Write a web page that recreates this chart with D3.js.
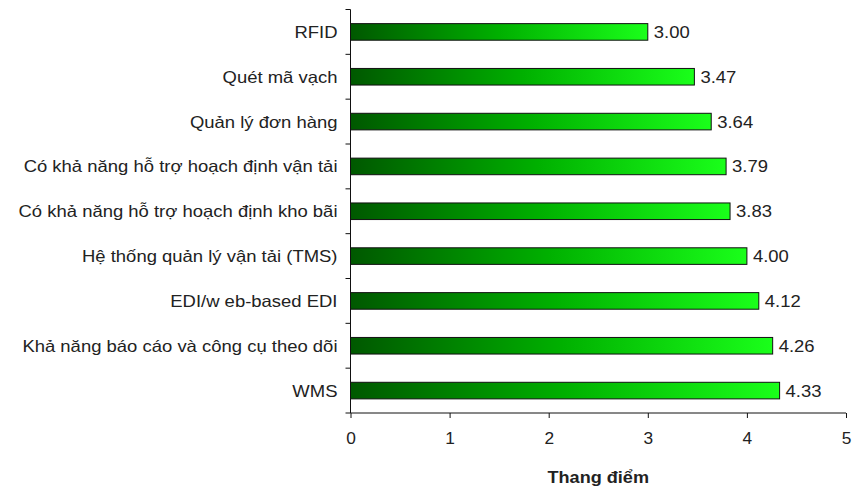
<!DOCTYPE html>
<html>
<head>
<meta charset="utf-8">
<script src="https://cdn.jsdelivr.net/npm/d3@7"></script>
<style>
  html, body { margin: 0; padding: 0; background: #fff; }
  svg { display: block; font-family: "Liberation Sans", Arial, sans-serif; }
</style>
</head>
<body>
<svg id="chart" width="858" height="489"></svg>
<script>
// Feature ratings, top to bottom
const categories = [
  "RFID",
  "Quét mã vạch",
  "Quản lý đơn hàng",
  "Có khả năng hỗ trợ hoạch định vận tải",
  "Có khả năng hỗ trợ hoạch định kho bãi",
  "Hệ thống quản lý vận tải (TMS)",
  "EDI/w eb-based EDI",
  "Khả năng báo cáo và công cụ theo dõi",
  "WMS"
];
const scores = [3.00, 3.47, 3.64, 3.79, 3.83, 4.00, 4.12, 4.26, 4.33];
const xTicks = [0, 1, 2, 3, 4, 5];
const xTitle = "Thang điểm";

const svg = d3.select("#chart");
const margin = { left: 350.5, right: 12, top: 9.5, bottom: 76 };
const W = 858, H = 489;
const stretch = 1.12; // slightly wide text rendering

const x = d3.scaleLinear().domain([0, 5]).range([margin.left, W - margin.right]);
const y = d3.scaleBand().domain(categories).range([margin.top, H - margin.bottom])
  .paddingInner(0.63).paddingOuter(0.315);

// Gradient running along each bar's own length
const defs = svg.append("defs");
const grad = defs.append("linearGradient").attr("id", "barGrad")
  .attr("x1", "0").attr("y1", "0").attr("x2", "1").attr("y2", "0");
grad.append("stop").attr("offset", "0").attr("stop-color", "#005800");
grad.append("stop").attr("offset", "0.5").attr("stop-color", "#00b000");
grad.append("stop").attr("offset", "1").attr("stop-color", "#1aff1a");

// Bars
svg.append("g").selectAll("rect")
  .data(categories)
  .join("rect")
  .attr("x", x(0))
  .attr("y", d => y(d))
  .attr("width", (d, i) => x(scores[i]) - x(0))
  .attr("height", y.bandwidth())
  .attr("fill", "url(#barGrad)")
  .attr("stroke", "#111")
  .attr("stroke-width", 1);

// Value labels
svg.append("g").selectAll("text")
  .data(categories)
  .join("text")
  .attr("transform", (d, i) => `translate(${x(scores[i]) + 6},${y(d) + y.bandwidth() / 2}) scale(${stretch},1)`)
  .attr("dy", "0.36em")
  .attr("font-size", 16.5)
  .attr("fill", "#222")
  .text((d, i) => scores[i].toFixed(2));

// X axis
const xAxis = svg.append("g")
  .attr("transform", `translate(0,${H - margin.bottom})`)
  .call(d3.axisBottom(x).tickValues(xTicks).tickFormat(d3.format("d")).tickSize(5).tickPadding(14));
xAxis.select(".domain").attr("stroke", "#111").attr("d", `M${x(0)},0H${x(5)}`);
xAxis.selectAll(".tick line").attr("stroke", "#111");
xAxis.selectAll(".tick text")
  .attr("font-size", 16.5).attr("fill", "#222")
  .attr("font-family", "'Liberation Sans', Arial, sans-serif")
  .attr("transform", `scale(1.05,1)`);

// Y axis: ticks sit on band boundaries
const yAxis = svg.append("g").attr("transform", `translate(${x(0)},0)`);
yAxis.append("line")
  .attr("x1", 0).attr("x2", 0)
  .attr("y1", margin.top).attr("y2", H - margin.bottom)
  .attr("stroke", "#111");
const step = y.step();
const bounds = d3.range(categories.length + 1).map(i => margin.top + i * step);
yAxis.selectAll("line.tk")
  .data(bounds)
  .join("line")
  .attr("class", "tk")
  .attr("x1", -5).attr("x2", 0)
  .attr("y1", d => d).attr("y2", d => d)
  .attr("stroke", "#111");
yAxis.selectAll("text")
  .data(categories)
  .join("text")
  .attr("transform", d => `translate(-13,${y(d) + y.bandwidth() / 2}) scale(${stretch},1)`)
  .attr("dy", "0.36em")
  .attr("text-anchor", "end")
  .attr("font-size", 16.5)
  .attr("fill", "#222")
  .text(d => d);

// Axis title
svg.append("text")
  .attr("transform", `translate(${(x(0) + x(5)) / 2},477) scale(1.13,1)`)
  .attr("dy", "0.36em")
  .attr("text-anchor", "middle")
  .attr("font-size", 16)
  .attr("font-weight", "bold")
  .attr("fill", "#222")
  .text(xTitle);
</script>
</body>
</html>
